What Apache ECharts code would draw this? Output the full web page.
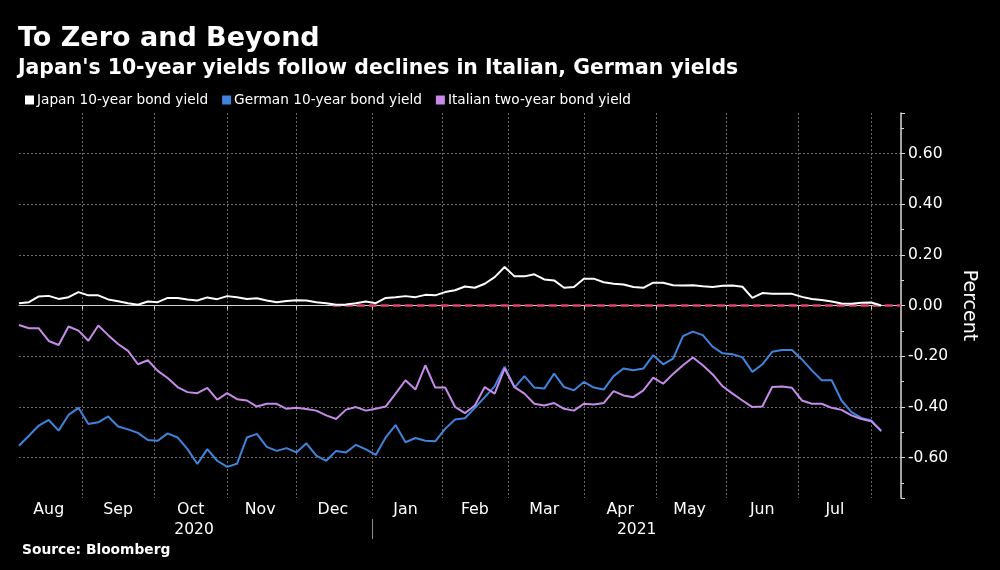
<!DOCTYPE html>
<html>
<head>
<meta charset="utf-8">
<script src="https://cdn.jsdelivr.net/npm/echarts@6/dist/echarts.min.js"></script>
<style>
html,body{margin:0;padding:0;background:#000;}
#chart{width:1000px;height:570px;}
</style>
</head>
<body>
<div id="chart"></div>
<script>
// ---- Data ----
const startDate = '2020-08-05';   // first business day shown
const endDate = '2021-08-13';     // last business day on the axis (right edge)
const sampleStep = 3;             // values below are read every 3rd business day
const zeroLineStart = '2020-12-16';
const zeroLevel = 0;

const japan10y = [
  0.009, 0.013, 0.036, 0.038, 0.026, 0.033, 0.053, 0.040, 0.040, 0.024,
  0.017, 0.009, 0.003, 0.016, 0.013, 0.030, 0.030, 0.024, 0.020, 0.032,
  0.025, 0.037, 0.033, 0.026, 0.029, 0.020, 0.013, 0.018, 0.021, 0.020,
  0.013, 0.009, 0.003, 0.004, 0.009, 0.016, 0.009, 0.030, 0.033, 0.037,
  0.033, 0.042, 0.040, 0.053, 0.060,
  0.075, 0.070, 0.086, 0.112, 0.152, 0.115, 0.115, 0.123, 0.103, 0.099,
  0.070, 0.073, 0.106, 0.106, 0.092, 0.086, 0.083, 0.073, 0.070, 0.090,
  0.090, 0.080, 0.079, 0.080, 0.076, 0.073, 0.078, 0.079, 0.074, 0.030,
  0.049, 0.046, 0.046, 0.046, 0.034, 0.026, 0.022, 0.016, 0.008, 0.007,
  0.011, 0.012, 0.000
];

const german10y = [
  -0.554, -0.514, -0.474, -0.452, -0.494, -0.432, -0.404, -0.468, -0.461, -0.438,
  -0.478, -0.489, -0.503, -0.531, -0.534, -0.505, -0.521, -0.567, -0.626, -0.567,
  -0.613, -0.637, -0.625,
  -0.521, -0.507, -0.558, -0.574, -0.563, -0.580, -0.544, -0.593, -0.613, -0.574,
  -0.580, -0.550, -0.568, -0.590, -0.521, -0.472, -0.540, -0.523, -0.534, -0.536,
  -0.487, -0.450,
  -0.445, -0.404, -0.362, -0.319, -0.242, -0.324, -0.279, -0.324, -0.328, -0.269,
  -0.322, -0.335, -0.302, -0.324, -0.332, -0.279, -0.249, -0.256, -0.249, -0.196,
  -0.232, -0.210,
  -0.121, -0.103, -0.117, -0.163, -0.189, -0.192, -0.205, -0.262, -0.233, -0.183,
  -0.176, -0.176, -0.213, -0.256, -0.295, -0.295, -0.375, -0.421, -0.444, -0.454,
  -0.497
];

const italian2y = [
  -0.077, -0.090, -0.090, -0.140, -0.156, -0.083, -0.099, -0.139, -0.079, -0.117,
  -0.152, -0.179, -0.232, -0.216, -0.258, -0.286, -0.322, -0.342, -0.346, -0.325,
  -0.372, -0.346, -0.370,
  -0.375, -0.399, -0.388, -0.388, -0.408, -0.404, -0.409, -0.415, -0.434, -0.448,
  -0.411, -0.401, -0.415, -0.408, -0.399, -0.348, -0.295, -0.332, -0.236, -0.324,
  -0.324, -0.400,
  -0.425, -0.395, -0.322, -0.348, -0.249, -0.322, -0.348, -0.388, -0.395, -0.385,
  -0.408, -0.415, -0.388, -0.391, -0.385, -0.338, -0.355, -0.362, -0.335, -0.285,
  -0.309, -0.270,
  -0.236, -0.205, -0.236, -0.272, -0.319, -0.348, -0.375, -0.401, -0.399, -0.322,
  -0.320, -0.325, -0.375, -0.388, -0.388, -0.404, -0.412, -0.434, -0.448, -0.457,
  -0.494
];

const seriesNames = ['Japan 10-year bond yield', 'German 10-year bond yield', 'Italian two-year bond yield'];
const seriesColors = ['#ffffff', '#3f84da', '#c68be9'];
const zeroColor = '#e0416e';
const monthNames = ['Jan','Feb','Mar','Apr','May','Jun','Jul','Aug','Sep','Oct','Nov','Dec'];
const yTickLabels = v => v.toFixed(2);

// ---- Business-day categories ----
const cats = [];
for (let d = new Date(startDate + 'T00:00:00Z'); d <= new Date(endDate + 'T00:00:00Z'); d.setUTCDate(d.getUTCDate() + 1)) {
  const w = d.getUTCDay();
  if (w > 0 && w < 6) cats.push(d.toISOString().slice(0, 10));
}
const monthStarts = [];
for (let i = 1; i < cats.length; i++) {
  if (cats[i].slice(0, 7) !== cats[i - 1].slice(0, 7)) monthStarts.push(i);
}
const monthStartSet = new Set(monthStarts);
const monthLabelSet = new Set();
const bounds = [0].concat(monthStarts);
for (let k = 0; k < bounds.length - 1; k++) {
  monthLabelSet.add(Math.floor((bounds[k] + bounds[k + 1]) / 2));
}
let yearStart = -1;
for (let i = 1; i < cats.length; i++) {
  if (cats[i].slice(0, 4) !== cats[i - 1].slice(0, 4)) { yearStart = i; break; }
}
const yearLabelSet = new Set([Math.floor(yearStart / 2), Math.floor((yearStart + cats.length - 1) / 2)]);
const zeroStartIdx = cats.indexOf(zeroLineStart);

const toPairs = arr => arr.map((v, i) => [i * sampleStep, v]);

const FONT = "'DejaVu Sans', sans-serif";
const gridLine = { color: '#6a6a6a', width: 1, type: [2, 2] };

const option = {
  backgroundColor: '#000',
  animation: false,
  textStyle: { fontFamily: FONT },
  title: [
    { text: 'To Zero and Beyond', left: 18, top: 25, padding: 0,
      textStyle: { color: '#fff', fontSize: 27, fontWeight: 'bold', fontFamily: FONT } },
    { text: "Japan's 10-year yields follow declines in Italian, German yields", left: 18, top: 59, padding: 0,
      textStyle: { color: '#fff', fontSize: 20.4, fontWeight: 'bold', fontFamily: FONT } },
    { text: 'Source: Bloomberg', left: 22, top: 543, padding: 0,
      textStyle: { color: '#fff', fontSize: 13.8, fontWeight: 'bold', fontFamily: FONT } }
  ],
  legend: {
    left: 20, top: 88,
    icon: 'rect', itemWidth: 9, itemHeight: 9, itemGap: 14,
    textStyle: { color: '#fff', fontSize: 13.7, fontFamily: FONT, padding: [0, 0, 0, -2] },
    data: seriesNames
  },
  grid: { left: 19, right: 99, top: 113, bottom: 72 },
  xAxis: [
    {
      type: 'category', data: cats, boundaryGap: false,
      axisLine: { show: true, lineStyle: { color: '#cfcfcf', width: 1 } },
      axisTick: { show: true, interval: i => monthStartSet.has(i), length: 4, lineStyle: { color: '#cfcfcf' } },
      splitLine: { show: true, interval: i => monthStartSet.has(i), lineStyle: gridLine },
      axisLabel: {
        interval: i => monthLabelSet.has(i),
        formatter: v => monthNames[parseInt(v.slice(5, 7), 10) - 1],
        color: '#fff', fontSize: 15.8, fontFamily: FONT, margin: 4
      }
    },
    {
      type: 'category', data: cats, boundaryGap: false, position: 'bottom', offset: 21,
      axisLine: { show: false },
      axisTick: { show: true, interval: i => i === yearStart, length: 20, lineStyle: { color: '#8a8a8a' } },
      splitLine: { show: false },
      axisLabel: {
        interval: i => yearLabelSet.has(i),
        formatter: v => v.slice(0, 4),
        color: '#fff', fontSize: 15.5, fontFamily: FONT, margin: 3
      }
    }
  ],
  yAxis: {
    type: 'value', position: 'right',
    min: -0.76, max: 0.76, splitNumber: 7, minInterval: 0.2, maxInterval: 0.2,
    axisLine: { show: true, lineStyle: { color: '#d8d8d8', width: 1.5 } },
    axisTick: { show: true, length: 4, lineStyle: { color: '#d8d8d8' } },
    minorTick: { show: true, splitNumber: 2, length: 3, lineStyle: { color: '#d8d8d8' } },
    axisLabel: { color: '#fff', fontSize: 15.5, fontFamily: FONT, margin: 7,
      formatter: yTickLabels, showMinLabel: false, showMaxLabel: false },
    splitLine: { show: true, showMinLine: false, showMaxLine: false, lineStyle: gridLine },
    name: 'Percent', nameLocation: 'middle', nameRotate: -90, nameGap: 53,
    nameTextStyle: { color: '#fff', fontSize: 19, fontFamily: FONT }
  },
  series: [
    {
      name: 'zero', type: 'line', silent: true, z: 2, showSymbol: false,
      data: [[zeroStartIdx, zeroLevel], [cats.length - 1, zeroLevel]],
      lineStyle: { color: zeroColor, type: [8, 4], width: 2.5 },
      itemStyle: { color: zeroColor },
      emphasis: { disabled: true }
    },
    {
      name: seriesNames[0], type: 'line', data: toPairs(japan10y),
      showSymbol: false, lineStyle: { color: seriesColors[0], width: 2 }, itemStyle: { color: seriesColors[0] }, z: 4
    },
    {
      name: seriesNames[1], type: 'line', data: toPairs(german10y),
      showSymbol: false, lineStyle: { color: seriesColors[1], width: 2 }, itemStyle: { color: seriesColors[1] }, z: 3
    },
    {
      name: seriesNames[2], type: 'line', data: toPairs(italian2y),
      showSymbol: false, lineStyle: { color: seriesColors[2], width: 2 }, itemStyle: { color: seriesColors[2] }, z: 3
    }
  ]
};

const chart = echarts.init(document.getElementById('chart'), null, { renderer: 'canvas' });
chart.setOption(option);
</script>
</body>
</html>
